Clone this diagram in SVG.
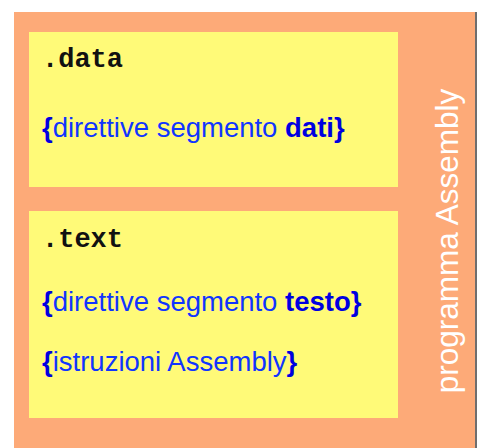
<svg xmlns="http://www.w3.org/2000/svg" width="477" height="448" viewBox="0 0 477 448">
  <style>
    .seg { fill: #FFFA78; }
    .dir { font-family: "Liberation Mono", "Courier New", monospace; font-weight: bold; font-size: 27px; fill: #111; }
    .txt { font-family: "Liberation Sans", Arial, sans-serif; font-size: 27.5px; fill: #1035FF; }
    .b { font-weight: bold; fill: #0000E0; }
    .side { font-family: "Liberation Sans", Arial, sans-serif; font-size: 31.5px; fill: #FFFFFF; }
  </style>
  <rect width="477" height="448" fill="#FFFFFF"/>

  <!-- program frame -->
  <g id="programma">
    <rect x="14" y="12" width="462" height="436" fill="#FDAA78"/>
    <rect x="475" y="12" width="2" height="436" fill="#6E6E6E"/>
    <text class="side" transform="translate(457.5,241) rotate(-90)" text-anchor="middle">programma Assembly</text>
  </g>

  <!-- data segment -->
  <g id="data">
    <rect class="seg" x="29" y="32" width="369" height="155"/>
    <text class="dir" x="42" y="66.5">.data</text>
    <text class="txt" x="42" y="136.5"><tspan class="b">{</tspan>direttive segmento <tspan class="b">dati}</tspan></text>
  </g>

  <!-- text segment -->
  <g id="text">
    <rect class="seg" x="29" y="211" width="369" height="207"/>
    <text class="dir" x="42" y="247.3">.text</text>
    <text class="txt" x="42" y="311"><tspan class="b">{</tspan>direttive segmento <tspan class="b">testo}</tspan></text>
    <text class="txt" x="42" y="371"><tspan class="b">{</tspan>istruzioni Assembly<tspan class="b">}</tspan></text>
  </g>
</svg>
